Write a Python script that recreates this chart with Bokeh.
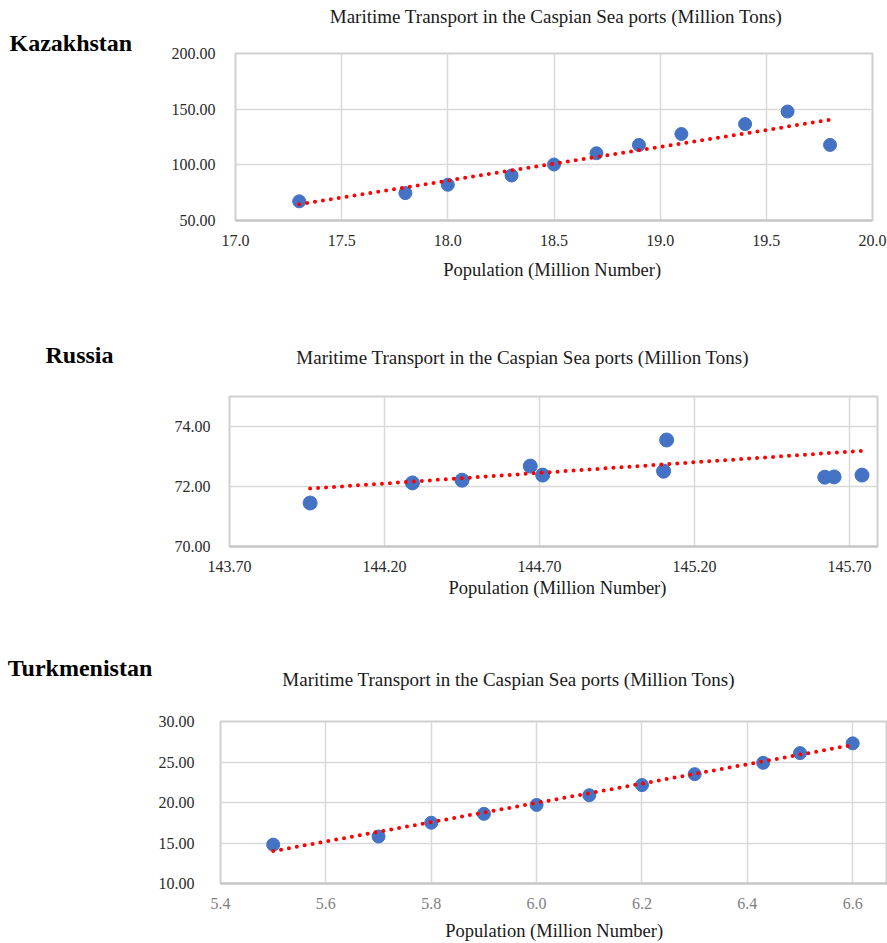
from bokeh.plotting import figure
from bokeh.layouts import column, row
from bokeh.models import Label, FixedTicker, NumeralTickFormatter, Range1d
from bokeh.embed import file_html
from bokeh.resources import INLINE

# ---------------- data ----------------
chart_title = "Maritime Transport in the Caspian Sea ports (Million Tons)"
x_title = "Population (Million Number)"

kz_name = "Kazakhstan"
kz_pop = [17.3, 17.8, 18.0, 18.3, 18.5, 18.7, 18.9, 19.1, 19.4, 19.6, 19.8]
kz_transport = [67.2, 74.6, 82.1, 90.4, 100.3, 110.4, 117.9, 127.7, 136.6, 147.9, 117.9]
kz_trend_x = [17.3, 19.8]
kz_trend_y = [64.6, 140.4]
kz_xticks = [17.0, 17.5, 18.0, 18.5, 19.0, 19.5, 20.0]
kz_yticks = [50, 100, 150, 200]

ru_name = "Russia"
ru_pop = [143.96, 144.29, 144.45, 144.67, 144.71, 145.11, 145.10, 145.62, 145.65, 145.74]
ru_transport = [71.45, 72.12, 72.21, 72.68, 72.38, 73.55, 72.51, 72.31, 72.32, 72.38]
ru_trend_x = [143.96, 145.74]
ru_trend_y = [71.93, 73.19]
ru_xticks = [143.7, 144.2, 144.7, 145.2, 145.7]
ru_yticks = [70, 72, 74]

tm_name = "Turkmenistan"
tm_pop = [5.5, 5.7, 5.8, 5.9, 6.0, 6.1, 6.2, 6.3, 6.43, 6.5, 6.6]
tm_transport = [14.8, 15.8, 17.5, 18.6, 19.7, 20.9, 22.15, 23.5, 24.9, 26.1, 27.3]
tm_trend_x = [5.5, 6.6]
tm_trend_y = [14.0, 27.1]
tm_xticks = [5.4, 5.6, 5.8, 6.0, 6.2, 6.4, 6.6]
tm_yticks = [10, 15, 20, 25, 30]

FONT = "Liberation Serif"


def text_fig(w, h, x, y, text, size, bold=False, align="center", color="#1a1a1a"):
    """A plain canvas holding one text (frame == whole canvas)."""
    p = figure(width=w, height=h, x_range=Range1d(0, w), y_range=Range1d(h, 0),
               title=None, output_backend="svg", toolbar_location=None,
               x_axis_location=None, y_axis_location=None, min_border=0,
               frame_align=False)
    p.outline_line_color = None
    p.background_fill_color = "white"
    p.border_fill_color = "white"
    p.grid.visible = False
    p.add_layout(Label(x=x, y=y, text=text, text_font=FONT, text_font_size=size,
                       text_font_style="bold" if bold else "normal",
                       text_align=align, text_baseline="alphabetic",
                       text_color=color))
    return p


def chart_fig(w, h, xs, ys, tx, ty, xr, yr, xticks, yticks, xfmt, borders,
              msize, xtick_color, ystand):
    left, right, top, bottom = borders
    p = figure(width=w, height=h, title=None, output_backend="svg",
               toolbar_location=None, x_range=Range1d(*xr), y_range=Range1d(*yr),
               min_border_left=left, min_border_right=right,
               min_border_top=top, min_border_bottom=bottom, frame_align=False)
    p.background_fill_color = "white"
    p.border_fill_color = "white"
    p.outline_line_color = "#d0d0d0"
    p.outline_line_width = 2

    p.xaxis.ticker = FixedTicker(ticks=xticks)
    p.yaxis.ticker = FixedTicker(ticks=yticks)
    p.xaxis.formatter = NumeralTickFormatter(format=xfmt)
    p.yaxis.formatter = NumeralTickFormatter(format="0.00")
    for ax in (p.xaxis, p.yaxis):
        ax.major_tick_line_color = None
        ax.minor_tick_line_color = None
        ax.major_tick_out = 0
        ax.major_tick_in = 0
        ax.major_label_text_font = FONT
        ax.major_label_text_font_size = "16px"
    p.xaxis.axis_line_color = "#c4c4c4"
    p.xaxis.axis_line_width = 2
    p.yaxis.axis_line_color = None
    p.xaxis.major_label_text_color = xtick_color
    p.yaxis.major_label_text_color = "#2a2a2a"
    p.xaxis.major_label_standoff = 14
    p.yaxis.major_label_standoff = ystand

    p.xgrid.ticker = FixedTicker(ticks=xticks)
    p.ygrid.ticker = FixedTicker(ticks=yticks)
    p.grid.grid_line_color = "#d9d9d9"
    p.grid.grid_line_width = 1.5

    p.scatter(xs, ys, size=msize, color="#4472C4", line_color="#4472C4")
    p.line(tx, ty, line_color="#FF0000", line_width=4, line_dash="0 8",
           line_cap="round")
    return p


# ---------- row 1 : Kazakhstan (page y 0..304) ----------
r1_country = text_fig(150, 304, 9, 42.5, kz_name, "24px", bold=True, align="left",
                      color="black")
r1_title = text_fig(737, 30, 405.7, 16.4, chart_title, "19px")
r1_chart = chart_fig(737, 222, kz_pop, kz_transport, kz_trend_x, kz_trend_y,
                     (17.0, 20.0), (50, 200), kz_xticks, kz_yticks, "0.0",
                     (85, 15, 23, 32), 13, "#2a2a2a", 20)
r1_foot = text_fig(737, 52, 401.7, 17.8, x_title, "18.5px")
row1 = row(r1_country, column(r1_title, r1_chart, r1_foot, spacing=0), spacing=0)

# ---------- row 2 : Russia (page y 304..614) ----------
r2_country = text_fig(150, 310, 45, 50, ru_name, "24px", bold=True, align="left",
                      color="black")
r2_title = text_fig(737, 66, 372.3, 53, chart_title, "19px")
r2_chart = chart_fig(737, 208, ru_pop, ru_transport, ru_trend_x, ru_trend_y,
                     (143.7, 145.79), (70, 75), ru_xticks, ru_yticks, "0.00",
                     (79, 10, 26, 32), 14, "#2a2a2a", 19)
r2_foot = text_fig(737, 36, 407, 9.1, x_title, "18.5px")
row2 = row(r2_country, column(r2_title, r2_chart, r2_foot, spacing=0), spacing=0)

# ---------- row 3 : Turkmenistan (page y 614..943) ----------
r3_country = text_fig(155, 329, 7.3, 53.5, tm_name, "24px", bold=True, align="left",
                      color="black")
r3_title = text_fig(732, 81, 353.3, 64.7, chart_title, "19px")
r3_chart = chart_fig(732, 223, tm_pop, tm_transport, tm_trend_x, tm_trend_y,
                     (5.4, 6.666), (10, 30), tm_xticks, tm_yticks, "0.0",
                     (64, 0, 26, 35), 13, "#808080", 26)
r3_foot = text_fig(732, 25, 398.7, 12.5, x_title, "18.5px")
row3 = row(r3_country, column(r3_title, r3_chart, r3_foot, spacing=0), spacing=0)

layout = column(row1, row2, row3, spacing=0)
open("out.html", "w").write(file_html(layout, INLINE))
